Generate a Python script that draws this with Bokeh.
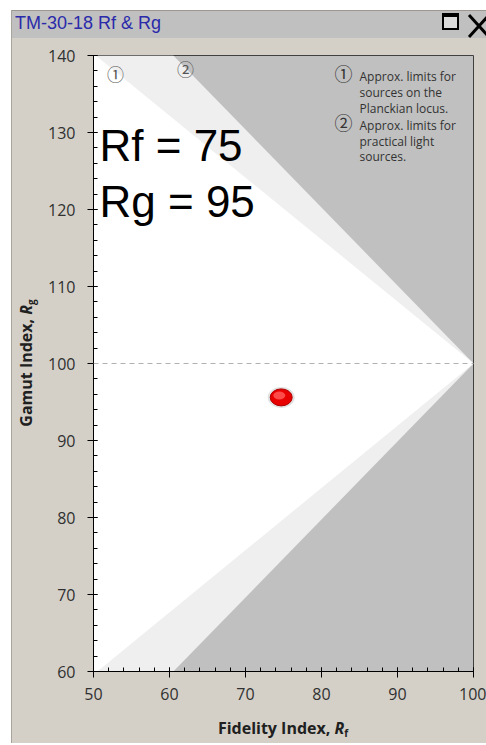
from bokeh.plotting import figure
from bokeh.models import Range1d, Label, Span, FixedTicker, Div
from bokeh.layouts import column, row
from bokeh.embed import file_html
from bokeh.resources import INLINE

# ---------------- data ----------------
rf_range = [50, 100]
rg_range = [60, 140]
rf_ticks = [50, 60, 70, 80, 90, 100]
rg_ticks = [60, 70, 80, 90, 100, 110, 120, 130, 140]
rf_minor = list(range(50, 101, 2))
rg_minor = list(range(60, 141, 2))

# zone 1: approx. limits for sources on the Planckian locus (white)
zone1_rf = [100, 50.3, 50, 50, 50.5]
zone1_rg = [100, 140, 140, 60, 60]
# zone 2: approx. limits for practical light sources (light gray)
zone2_rf = [100, 60.5, 50, 50, 60.5]
zone2_rg = [100, 140, 140, 60, 60]

reference_rg = 100
source_rf = [74.7]
source_rg = [95.6]
rf_text = "Rf = 75"
rg_text = "Rg = 95"
x_title = "Fidelity Index, "
y_title = "Gamut Index, "

# ---------------- layout (page pixels) ----------------
FRAME_L, FRAME_R, FRAME_T, FRAME_B = 93, 473, 55, 671
WIN_X0, WIN_Y0 = 12, 10
TITLE_H = 28
YT_W = 30
FIG_X0, FIG_Y0 = WIN_X0 + YT_W, WIN_Y0 + TITLE_H
FIG_W = 486 - FIG_X0
FIG_H = 712 - FIG_Y0
XT_H = 31
BODY = "#d4d0c8"


def dx(px):
    return rf_range[0] + (px - FRAME_L) * (rf_range[1] - rf_range[0]) / (FRAME_R - FRAME_L)


def dy(py):
    return rg_range[1] - (py - FRAME_T) * (rg_range[1] - rg_range[0]) / (FRAME_B - FRAME_T)


p = figure(width=FIG_W, height=FIG_H,
           x_range=Range1d(*rf_range), y_range=Range1d(*rg_range),
           output_backend="svg", toolbar_location=None,
           min_border_left=FRAME_L - FIG_X0, min_border_right=FIG_X0 + FIG_W - FRAME_R,
           min_border_top=FRAME_T - FIG_Y0, min_border_bottom=FIG_Y0 + FIG_H - FRAME_B,
           background_fill_color="#c0c0c0", border_fill_color=BODY,
           outline_line_color="#404040", outline_line_width=1, margin=0)
p.xgrid.visible = False
p.ygrid.visible = False

for ax, ticks, minor in ((p.xaxis[0], rf_ticks, rf_minor), (p.yaxis[0], rg_ticks, rg_minor)):
    ax.ticker = FixedTicker(ticks=ticks, minor_ticks=minor)
    ax.axis_line_color = "#000000"
    ax.major_tick_line_color = "#000000"
    ax.minor_tick_line_color = "#000000"
    ax.major_tick_in = 4
    ax.major_tick_out = 6
    ax.minor_tick_in = 4
    ax.minor_tick_out = 0
    ax.major_label_text_font = "Open Sans"
    ax.major_label_text_font_size = "16px"
    ax.major_label_text_color = "#303030"
p.xaxis.major_label_standoff = 10
p.yaxis.major_label_standoff = 12

# zones
p.patch(zone2_rf, zone2_rg, fill_color="#efefef", line_color=None)
p.patch(zone1_rf, zone1_rg, fill_color="#ffffff", line_color=None)

p.add_layout(Span(location=reference_rg, dimension="width", line_color="#b0b0b0",
                  line_dash="5 4", line_width=1))

# red source point
p.ellipse(x=source_rf, y=source_rg, width=27, height=21, width_units="screen",
          height_units="screen", fill_color="#a0a0a0", fill_alpha=0.3, line_color=None)
p.ellipse(x=source_rf, y=source_rg, width=22, height=17, width_units="screen",
          height_units="screen", fill_color="#e80000", line_color="#b00000", line_width=1)
p.ellipse(x=[v - 0.25 for v in source_rf], y=[v + 0.25 for v in source_rg], width=12, height=8,
          width_units="screen", height_units="screen", fill_color="#ff4a4a", line_color=None)

# big texts
p.add_layout(Label(x=dx(99), y=dy(145), text=rf_text, text_font="Liberation Sans",
                   text_font_size="44px", text_color="#000000", text_baseline="alphabetic"))
p.add_layout(Label(x=dx(99), y=dy(201), text=rg_text, text_font="Liberation Sans",
                   text_font_size="44px", text_color="#000000", text_baseline="alphabetic"))

# circled markers on the zones
CIRC_FONT = "Noto Sans CJK JP"
for txt, px, py in (("①", 115, 73), ("②", 185, 68)):
    p.add_layout(Label(x=dx(px), y=dy(py), text=txt, text_font=CIRC_FONT, text_font_size="17px",
                       text_color="#555555", text_align="center", text_baseline="middle"))

# note block
for txt, py in (("①", 72), ("②", 121)):
    p.add_layout(Label(x=dx(343), y=dy(py), text=txt, text_font=CIRC_FONT, text_font_size="18px",
                       text_color="#333333", text_align="center", text_baseline="middle"))
note_lines = ["Approx. limits for", "sources on the", "Planckian locus.",
              "Approx. limits for", "practical light", "sources."]
note_baselines = [76, 92, 108, 125, 141, 156]
for txt, py in zip(note_lines, note_baselines):
    p.add_layout(Label(x=dx(359), y=dy(py), text=txt, text_font="Open Sans", text_font_size="12px",
                       text_color="#333333", text_baseline="alphabetic"))

# window title bar
title_html = (
    '<div style="position:relative;width:%dpx;height:%dpx;background:#c0c0c0;'
    'border-top:1px solid #9c9890;box-sizing:border-box;overflow:hidden;'
    'font-family:\'Liberation Sans\',Arial,sans-serif;">'
    '<span style="position:absolute;left:3px;top:2px;font-size:18px;line-height:21px;'
    'color:#2a2aaa;white-space:nowrap;">TM-30-18 Rf &amp; Rg</span>'
    '<div style="position:absolute;left:430px;top:2px;width:17px;height:17px;'
    'border:2px solid #000;border-top-width:4px;background:#dcdcdc;"></div>'
    '<svg style="position:absolute;left:455px;top:3px;" width="24" height="24">'
    '<line x1="2" y1="1" x2="22" y2="23" stroke="#000" stroke-width="3"/>'
    '<line x1="22" y1="1" x2="2" y2="23" stroke="#000" stroke-width="3"/></svg>'
    '</div>') % (WIN_X0 and 486 - WIN_X0, TITLE_H)
title_div = Div(text=title_html, width=486 - WIN_X0, height=TITLE_H, margin=0)

AX_STYLE = ("position:absolute;white-space:nowrap;font-family:'Open Sans',sans-serif;"
            "font-weight:bold;font-size:16px;line-height:20px;color:#202020;")
SUB = '<i>R</i><sub style="font-size:10px;vertical-align:-3px;">%s</sub>'

yt_cx, yt_cy = 28 - WIN_X0, (FRAME_T + FRAME_B) / 2 - FIG_Y0
ytitle_html = ('<div style="position:relative;width:%dpx;height:%dpx;background:%s;">'
               '<span style="%sleft:%dpx;top:%dpx;transform:translate(-50%%,-50%%) rotate(-90deg);">'
               '%s%s</span></div>') % (YT_W, FIG_H, BODY, AX_STYLE, yt_cx, yt_cy, y_title, SUB % "g")
ytitle_div = Div(text=ytitle_html, width=YT_W, height=FIG_H, margin=0)

xt_cx = (FRAME_L + FRAME_R) / 2 - WIN_X0
xtitle_html = ('<div style="position:relative;width:%dpx;height:%dpx;background:%s;">'
               '<span style="%sleft:%dpx;top:6px;transform:translateX(-50%%);">'
               '%s%s</span></div>') % (486 - WIN_X0, XT_H, BODY, AX_STYLE, xt_cx, x_title, SUB % "f")
xtitle_div = Div(text=xtitle_html, width=486 - WIN_X0, height=XT_H, margin=0)

layout = column(title_div, row(ytitle_div, p, spacing=0, margin=0), xtitle_div,
                margin=(WIN_Y0, 0, 0, WIN_X0 - 1), spacing=0,
                styles={"border-left": "1px solid #a8a49c", "background-color": BODY})

open("out.html", "w").write(file_html(layout, INLINE))
